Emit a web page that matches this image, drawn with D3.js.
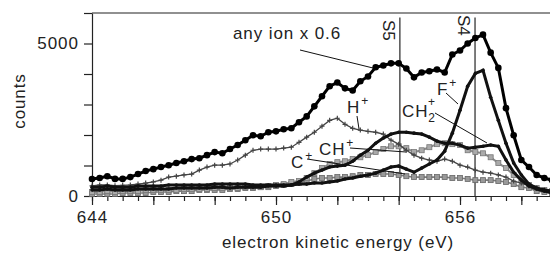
<!DOCTYPE html>
<html>
<head>
<meta charset="utf-8">
<script src="https://cdn.jsdelivr.net/npm/d3@7/dist/d3.min.js"></script>
<style>
  body { margin: 0; background: #fff; }
  svg { font-family: "Liberation Sans", Arial, Helvetica, sans-serif; display: block; }
  .axis path, .axis line { stroke: #222; stroke-width: 1.2; }
  .axis text { font-size: 17px; fill: #222; letter-spacing: 1px; }
  .lbl { font-size: 17px; fill: #222; letter-spacing: 0.9px; }
</style>
</head>
<body>
<script>
// electron kinetic energy grid (eV), one sample every 0.25 eV
var energy = d3.range(644, 659.001, 0.25);

// counts
var anyIon = [556,590,650,560,560,620,720,820,880,950, 1010,1080,1140,1210,1240,1340,1440,1400,1540,1670,
  1830,1990,1960,2090,2120,2190,2220,2420,2610,2940, 3270,3600,3720,3530,3460,3760,3920,4220,4280,4350,
  4350,4180,3890,4050,4090,4150,4050,4640,4770,5000, 5180,5290,4700,4200,2880,1990,1180,950,690,590, 520];
var hPlus = [330,360,360,340,350,360,390,425,460,520, 620,650,690,720,850,950,1010,1010,1050,1180,
  1340,1500,1540,1540,1540,1570,1600,1760,1930,2090, 2290,2480,2550,2350,2220,2160,2120,2090,2030,1830,
  1700,1500,1340,1240,1180,1140,1210,1140,1010,950, 850,780,750,690,620,490,425,330,260,200, 160];
var fPlus = [290,290,330,290,290,290,330,330,330,330, 360,360,360,360,360,360,390,390,390,390,
  390,360,360,360,360,360,360,390,390,425, 425,460,490,555,590,650,690,750,850,950,
  980,880,780,915,1050,1180,1470,2060,2810,3600, 4020,4120,3240,2480,1730,1080,690,390,260,200, 160];
var ch2Plus = [200,200,230,200,200,200,230,230,230,230, 230,260,260,260,260,260,290,290,260,290,
  290,290,290,330,330,330,360,460,620,750, 850,950,980,1010,1140,1340,1500,1730,1900,2030,
  2090,2090,2060,2030,1930,1800,1730,1730,1670,1570, 1600,1630,1670,1630,1180,780,520,330,230,160, 100];
var chPlus = [130,130,160,130,160,160,160,200,200,200, 200,200,230,230,230,230,260,260,260,260,
  290,290,290,330,360,390,460,490,590,750, 915,1050,1110,1140,1210,1270,1340,1440,1540,1630,
  1630,1570,1440,1500,1600,1700,1730,1700,1670,1500, 1440,1400,1270,1080,915,690,520,360,260,200, 160];
var cPlus = [65,65,65,65,100,100,100,100,130,130, 130,160,160,160,200,200,200,200,230,230,
  260,260,290,290,330,360,390,425,490,560, 590,590,620,620,650,690,690,720,720,720,
  690,650,620,620,620,620,620,590,590,560, 520,520,520,490,460,390,290,260,160,130, 100];

var xMinor = d3.range(644, 659.001, 0.5);
var xMajor = d3.range(644, 659, 2);
var xLabels = [644, 650, 656];
var yTicks = [0, 1000, 2000, 3000, 4000, 5000, 6000];
var yLabels = [0, 5000];
var stateLines = [{name: "S5", e: 654.04}, {name: "S4", e: 656.49}];

var w = 550, h = 255;

var x = d3.scaleLinear().domain([644, 659]).range([92, 552]);
var y = d3.scaleLinear().domain([0, 6000]).range([196, 13]);

var svg = d3.select("body").append("svg").attr("width", w).attr("height", h);

// axes
svg.append("g").attr("class", "axis")
  .attr("transform", "translate(0," + y(0) + ")")
  .call(d3.axisBottom(x).tickValues(xMinor).tickSize(5).tickSizeOuter(0).tickFormat(""));
svg.append("g").attr("class", "axis")
  .attr("transform", "translate(0," + y(0) + ")")
  .call(d3.axisBottom(x).tickValues(xMajor).tickSize(9).tickSizeOuter(0).tickPadding(6)
    .tickFormat(function(d) { return xLabels.indexOf(d) >= 0 ? d : ""; }));
svg.append("g").attr("class", "axis")
  .attr("transform", "translate(" + x(644) + ",0)")
  .call(d3.axisLeft(y).tickValues(yTicks).tickSize(8).tickSizeOuter(0).tickPadding(5)
    .tickFormat(function(d) { return yLabels.indexOf(d) >= 0 ? d : ""; }));
// top frame line
svg.append("line")
  .attr("x1", x(644)).attr("x2", w).attr("y1", y(6000)).attr("y2", y(6000))
  .attr("stroke", "#222").attr("stroke-width", 1.2);

// axis titles
svg.append("text").attr("class", "lbl").attr("x", 338).attr("y", 248).attr("text-anchor", "middle")
  .text("electron kinetic energy (eV)");
svg.append("text").attr("class", "lbl").attr("transform", "translate(25,101) rotate(-90)").attr("text-anchor", "middle")
  .text("counts");

// state markers
stateLines.forEach(function(s) {
  svg.append("line").attr("x1", x(s.e)).attr("x2", x(s.e))
    .attr("y1", y(5850)).attr("y2", y(0)).attr("stroke", "#111").attr("stroke-width", 1.1);
  svg.append("text").attr("class", "lbl")
    .attr("transform", "translate(" + (x(s.e) - 17) + "," + (s.name == "S5" ? 20 : 15) + ") rotate(90)")
    .style("letter-spacing", "0px").text(s.name);
});

var line = d3.line().x(function(d, i) { return x(energy[i]); }).y(function(d) { return y(d); });

function pts(data) {
  return data.map(function(v, i) { return {x: x(energy[i]), y: y(v)}; });
}

// C+  (grey, square markers)
svg.append("path").attr("d", line(cPlus)).attr("fill", "none").attr("stroke", "#7a7a7a").attr("stroke-width", 1.6);
svg.append("g").selectAll("rect").data(pts(cPlus)).enter().append("rect")
  .attr("x", function(d) { return d.x - 2.5; }).attr("y", function(d) { return d.y - 2.5; })
  .attr("width", 5).attr("height", 5).attr("fill", "#999").attr("stroke", "#666").attr("stroke-width", 0.8);

// CH+ (grey, square markers)
svg.append("path").attr("d", line(chPlus)).attr("fill", "none").attr("stroke", "#8a8a8a").attr("stroke-width", 2);
svg.append("g").selectAll("rect").data(pts(chPlus)).enter().append("rect")
  .attr("x", function(d) { return d.x - 2.5; }).attr("y", function(d) { return d.y - 2.5; })
  .attr("width", 5).attr("height", 5).attr("fill", "#aaa").attr("stroke", "#777").attr("stroke-width", 0.8);

// H+ (dark grey, crosses)
svg.append("path").attr("d", line(hPlus)).attr("fill", "none").attr("stroke", "#444").attr("stroke-width", 1.3);
svg.append("g").selectAll("path").data(pts(hPlus)).enter().append("path")
  .attr("d", function(d) { return "M" + (d.x - 2.5) + "," + d.y + "h5M" + d.x + "," + (d.y - 2.5) + "v5"; })
  .attr("stroke", "#444").attr("stroke-width", 1.2);

// CH2+ and F+ (thick black)
[ch2Plus, fPlus].forEach(function(s) {
  svg.append("path").attr("d", line(s)).attr("fill", "none").attr("stroke", "#111").attr("stroke-width", 3);
  svg.append("g").selectAll("circle").data(pts(s)).enter().append("circle")
    .attr("cx", function(d) { return d.x; }).attr("cy", function(d) { return d.y; })
    .attr("r", 1.8).attr("fill", "#111");
});

// any ion x 0.6 (thick black, round markers)
svg.append("path").attr("d", line(anyIon)).attr("fill", "none").attr("stroke", "#000").attr("stroke-width", 3);
svg.append("g").selectAll("circle").data(pts(anyIon)).enter().append("circle")
  .attr("cx", function(d) { return d.x; }).attr("cy", function(d) { return d.y; })
  .attr("r", 3.3).attr("fill", "#000");

// labels with leader lines
var labels = [
  {t: "any ion x 0.6", x: 233, y: 39, lx1: 300, ly1: 50, lx2: 373, ly2: 68},
  {t: "H", sup: "+", x: 347, y: 113, lx1: 357, ly1: 116, lx2: 359, ly2: 129},
  {t: "CH", sup: "+", x: 319, y: 155, lx1: 350, ly1: 148, lx2: 406, ly2: 152},
  {t: "C", sup: "+", x: 291, y: 168, lx1: 307, ly1: 159, lx2: 405, ly2: 174},
  {t: "F", sup: "+", x: 437, y: 95, lx1: 446, ly1: 93, lx2: 458, ly2: 104},
  {t: "CH", sub: "2", sup: "+", x: 402, y: 117, lx1: 435, ly1: 113, lx2: 487, ly2: 143}
];
labels.forEach(function(l) {
  svg.append("line").attr("x1", l.lx1).attr("y1", l.ly1).attr("x2", l.lx2).attr("y2", l.ly2)
    .attr("stroke", "#111").attr("stroke-width", 1);
  var t = svg.append("text").attr("class", "lbl").attr("x", l.x).attr("y", l.y);
  t.append("tspan").text(l.t);
  if (l.sub) t.append("tspan").attr("dy", 5).style("font-size", "12px").text(l.sub);
  if (l.sup) t.append("tspan").attr("dx", l.sub ? -8 : 1).attr("dy", l.sub ? -16 : -8).style("font-size", "12px").text(l.sup);
});
</script>
</body>
</html>
